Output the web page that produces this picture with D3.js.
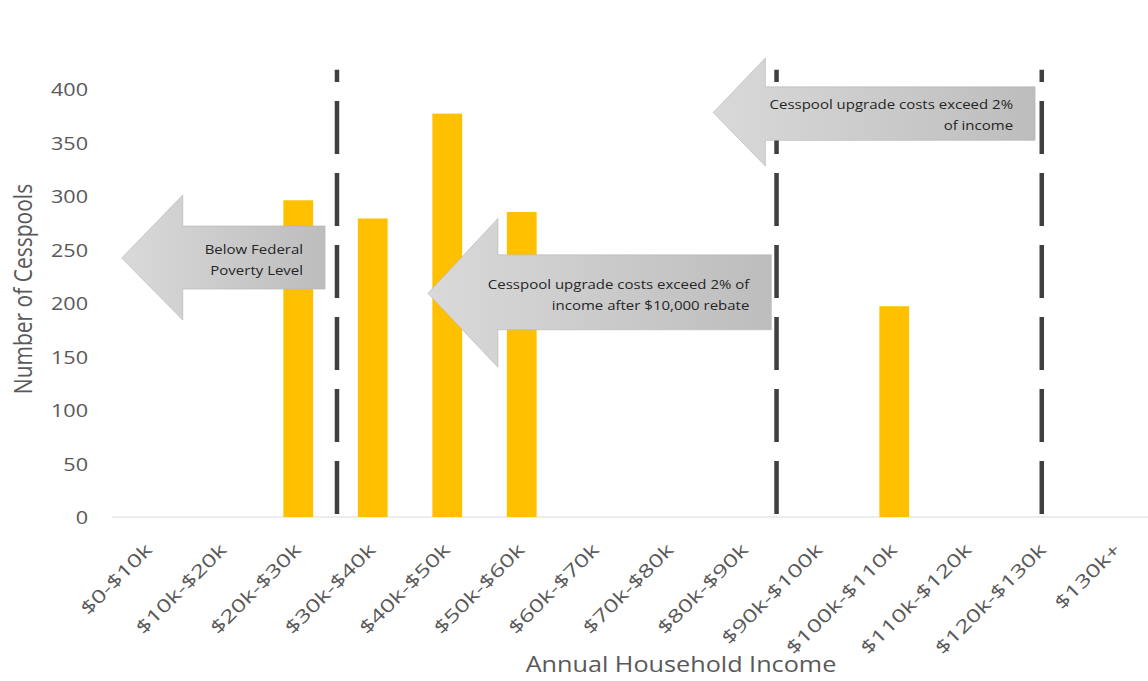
<html>
<head>
	<title>Cesspools by Household Income</title>
	<style type="text/css">
		body{
			margin: 0;
			background-color: #fff;
		}
		svg{
			display: block;
			background-color: #fff;
		}
		.tick text, .axisTitle{
			fill: #595959;
			font-family: 'Open Sans', sans-serif;
		}
		.arrowText{
			fill: #262626;
			font-family: 'Open Sans', sans-serif;
			font-size: 12.5px;
		}
	</style>
	<script type="text/javascript" src="https://d3js.org/d3.v7.min.js"></script>
</head>
<body>
<div id="chart"></div>

<script type="text/javascript">
	// categories and values
	var incomeBands = ['$0-$10k', '$10k-$20k', '$20k-$30k', '$30k-$40k', '$40k-$50k', '$50k-$60k', '$60k-$70k',
		'$70k-$80k', '$80k-$90k', '$90k-$100k', '$100k-$110k', '$110k-$120k', '$120k-$130k', '$130k+'];
	var cesspools = [0, 0, 296, 279, 377, 285, 0, 0, 0, 0, 197, 0, 0, 0];
	var yTicks = [0, 50, 100, 150, 200, 250, 300, 350, 400];

	// dashed threshold lines, in $k of income
	var thresholds = [30.2, 89.2, 124.8];
	var thresholdTop = 418;

	// arrow call-outs: x in $k of income, y in number of cesspools
	var arrowTips = [1.3, 42.4, 80.7];
	var arrowNecks = [9.5, 51.8, 87.7];
	var arrowTails = [28.6, 88.5, 123.9];
	var arrowMids = [242, 209, 378];
	var arrowBody = [[213, 272], [175, 245], [352, 402]];
	var arrowHead = [[184, 301], [140, 279], [328, 429]];
	var arrowLines = [
		['Below Federal', 'Poverty Level'],
		['Cesspool upgrade costs exceed 2% of', 'income after $10,000 rebate'],
		['Cesspool upgrade costs exceed 2%', 'of income']
	];

	var width = 1148, height = 681;
	var plotLeft = 112, plotRight = 1155, plotTop = 89, plotBottom = 517;
	var stretch = 1.2; // the source picture is a little wide

	var svg = d3.select('#chart')
		.append('svg')
		.attr('width', width)
		.attr('height', height);

	var defs = svg.append('defs');
	var grad = defs.append('linearGradient')
		.attr('id', 'arrowFill')
		.attr('x1', '0%').attr('x2', '100%')
		.attr('y1', '0%').attr('y2', '0%');
	grad.append('stop').attr('offset', '0%').attr('stop-color', '#d9d9d9');
	grad.append('stop').attr('offset', '100%').attr('stop-color', '#bdbdbd');

	var xScale = d3.scaleBand()
		.domain(incomeBands)
		.range([plotLeft, plotRight])
		.paddingInner(0.6)
		.paddingOuter(0.3);
	var incScale = d3.scaleLinear()
		.domain([0, 140])
		.range([plotLeft, plotRight]);
	var yScale = d3.scaleLinear()
		.domain([0, 400])
		.range([plotBottom, plotTop]);

	// baseline
	svg.append('line')
		.attr('x1', plotLeft)
		.attr('x2', width)
		.attr('y1', yScale(0))
		.attr('y2', yScale(0))
		.attr('stroke', '#d9d9d9')
		.attr('stroke-width', 1.2);

	// y axis (no line, just labels)
	var yAxis = d3.axisLeft(yScale).tickValues(yTicks).tickSize(0).tickPadding(0);
	var yAxisG = svg.append('g')
		.attr('transform', 'translate(88,0)')
		.call(yAxis);
	yAxisG.select('.domain').remove();
	yAxisG.selectAll('.tick text')
		.attr('x', null)
		.attr('dy', null)
		.attr('text-anchor', 'end')
		.style('font-size', '18px')
		.attr('transform', 'translate(0,6.5) scale(' + stretch + ',1)');

	// x axis labels, rotated 45 and widened along the text
	var xAxis = d3.axisBottom(xScale).tickSize(0).tickPadding(0);
	var xAxisG = svg.append('g')
		.attr('transform', 'translate(0,' + plotBottom + ')')
		.call(xAxis);
	xAxisG.select('.domain').remove();
	xAxisG.selectAll('.tick text')
		.attr('y', null)
		.attr('dy', null)
		.attr('text-anchor', 'end')
		.style('font-size', '18px')
		.attr('transform', 'translate(4,34) rotate(-45) scale(1.38,1)');

	// bars
	svg.selectAll('.bar')
		.data(cesspools)
		.enter()
		.append('rect')
		.attr('class', 'bar')
		.attr('x', function(d, i){ return xScale(incomeBands[i]); })
		.attr('width', xScale.bandwidth())
		.attr('y', function(d){ return yScale(d); })
		.attr('height', function(d){ return yScale(0) - yScale(d); })
		.attr('fill', '#ffc000');

	// dashed threshold lines
	svg.selectAll('.threshold')
		.data(thresholds)
		.enter()
		.append('line')
		.attr('class', 'threshold')
		.attr('x1', function(d){ return incScale(d); })
		.attr('x2', function(d){ return incScale(d); })
		.attr('y1', yScale(0))
		.attr('y2', yScale(thresholdTop))
		.attr('stroke', '#3f3f3f')
		.attr('stroke-width', 4.5)
		.attr('stroke-dasharray', '53,19')
		.attr('stroke-dashoffset', 69);

	// arrows pointing left
	var arrows = svg.selectAll('.arrow')
		.data(arrowTips)
		.enter()
		.append('g')
		.attr('class', 'arrow');

	arrows.append('path')
		.attr('d', function(d, i){
			var tip = incScale(d), neck = incScale(arrowNecks[i]), tail = incScale(arrowTails[i]);
			var mid = yScale(arrowMids[i]);
			var bLo = yScale(arrowBody[i][0]), bHi = yScale(arrowBody[i][1]);
			var hLo = yScale(arrowHead[i][0]), hHi = yScale(arrowHead[i][1]);
			return 'M' + tip + ',' + mid +
				'L' + neck + ',' + hHi +
				'L' + neck + ',' + bHi +
				'L' + tail + ',' + bHi +
				'L' + tail + ',' + bLo +
				'L' + neck + ',' + bLo +
				'L' + neck + ',' + hLo + 'Z';
		})
		.attr('fill', 'url(#arrowFill)')
		.attr('stroke', '#b3b3b3')
		.attr('stroke-width', 0.6);

	arrows.each(function(d, i){
		var g = d3.select(this);
		var xEnd = incScale(arrowTails[i]) - 22;
		var mid = yScale(arrowMids[i]);
		arrowLines[i].forEach(function(line, j){
			g.append('text')
				.attr('class', 'arrowText')
				.attr('text-anchor', 'end')
				.attr('transform', 'translate(' + xEnd + ',' + (mid - 4 + j * 21) + ') scale(' + stretch + ',1)')
				.text(line);
		});
	});

	// axis titles
	svg.append('text')
		.attr('class', 'axisTitle')
		.attr('text-anchor', 'middle')
		.style('font-size', '21px')
		.attr('transform', 'translate(681,672) scale(' + stretch + ',1)')
		.text('Annual Household Income');

	svg.append('text')
		.attr('class', 'axisTitle')
		.attr('text-anchor', 'middle')
		.style('font-size', '21px')
		.attr('transform', 'translate(32,289) scale(' + stretch + ',1) rotate(-90)')
		.text('Number of Cesspools');
</script>
</body>
</html>
